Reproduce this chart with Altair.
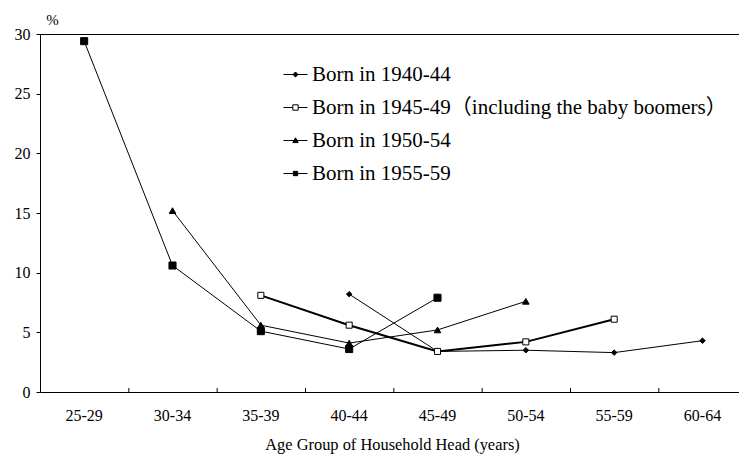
import altair as alt
import pandas as pd

# ---- data ----
categories = ["25-29", "30-34", "35-39", "40-44", "45-49", "50-54", "55-59", "60-64"]
series_names = [
    "Born in 1940-44",
    "Born in 1945-49（including the baby boomers）",
    "Born in 1950-54",
    "Born in 1955-59",
]
born_1940_44 = [None, None, None, 8.2, 3.4, 3.5, 3.3, 4.3]
born_1945_49 = [None, None, 8.1, 5.6, 3.4, 4.2, 6.1, None]
born_1950_54 = [None, 15.2, 5.6, 4.1, 5.2, 7.6, None, None]
born_1955_59 = [29.4, 10.6, 5.1, 3.6, 7.9, None, None, None]
y_ticks = [0, 5, 10, 15, 20, 25, 30]

# ---- styles ----
marker_shapes = ["diamond", "square", "triangle-up", "square"]
marker_fills = ["black", "white", "black", "black"]
marker_strokes = ["black", "black", "black", "black"]
marker_sizes = [30, 50, 36, 26]
line_widths = [1, 2, 1, 1]
legend_paths = [
    "M-2,0H2M0,-0.42L0.42,0L0,0.42L-0.42,0Z",
    "M-2,0H-0.45M0.45,0H2M-0.45,-0.45H0.45V0.45H-0.45Z",
    "M-2,0H2M0,-0.45L0.45,0.35H-0.45Z",
    "M-2,0H2M-0.36,-0.36H0.36V0.36H-0.36Z",
]

FONT = "Liberation Serif, Noto Sans CJK JP"
W, H = 699, 358
BAND_RANGE = [0, 706.67]

rows = []
for name, lw, vals in zip(series_names, line_widths,
                          [born_1940_44, born_1945_49, born_1950_54, born_1955_59]):
    for cat, v in zip(categories, vals):
        if v is not None:
            rows.append({"series": name, "age": cat, "value": v, "lw": lw})
df = pd.DataFrame(rows)
# draw open squares last so they sit on top
df_points = pd.concat([df[df.series != series_names[1]], df[df.series == series_names[1]]])

x_scale = alt.Scale(type="band", domain=categories, range=BAND_RANGE, paddingInner=0, paddingOuter=0)
y_scale = alt.Scale(domain=[0, 30], nice=False)

x_axis = alt.Axis(
    title="Age Group of Household Head (years)",
    ticks=False,
    labelAngle=0,
    labelPadding=15,
    labelFontSize=16,
    titleFontSize=16.4,
    titlePadding=13,
    titleFontWeight="normal",
    domainColor="black",
    labelColor="black",
    titleColor="black",
    titleX=352,
    titleAnchor="middle",
)
y_axis = alt.Axis(
    values=y_ticks,
    grid=False,
    tickSize=4,
    tickColor="black",
    domainColor="black",
    labelColor="black",
    labelFontSize=16,
    labelPadding=6,
    title="%",
    titleAngle=0,
    titleX=12,
    titleY=-10,
    titleAlign="center",
    titleBaseline="alphabetic",
    titleFontSize=15,
    titleFontWeight="normal",
    titleColor="black",
)

X = lambda **kw: alt.X("age:N", scale=x_scale, sort=categories, axis=x_axis, **kw)
Y = lambda: alt.Y("value:Q", scale=y_scale, axis=y_axis)

lines = alt.Chart(df).mark_line(color="black").encode(
    x=X(),
    y=Y(),
    detail="series:N",
    strokeWidth=alt.StrokeWidth("lw:Q", scale=None),
)

points = alt.Chart(df_points).mark_point(filled=True, stroke="black", strokeWidth=1, opacity=1).encode(
    x=X(),
    y=Y(),
    shape=alt.Shape("series:N", scale=alt.Scale(domain=series_names, range=marker_shapes), legend=None),
    fill=alt.Fill("series:N", scale=alt.Scale(domain=series_names, range=marker_fills), legend=None),
    size=alt.Size("series:N", scale=alt.Scale(domain=series_names, range=marker_sizes), legend=None),
)

legend_props = dict(
    title=None,
    orient="none",
    legendX=245,
    legendY=30,
    padding=0,
    labelFont=FONT,
    labelFontSize=21,
    labelColor="black",
    labelOffset=6,
    labelLimit=0,
    rowPadding=11,
    symbolSize=144,
    symbolStrokeWidth=1,
    symbolOpacity=1,
)

legend_layer = (
    alt.Chart(df)
    .transform_filter("false")
    .mark_point(filled=False, strokeWidth=1, opacity=1)
    .encode(
        x=X(),
        y=Y(),
        shape=alt.Shape(
            "series:N",
            scale=alt.Scale(domain=series_names, range=legend_paths),
            legend=alt.Legend(**legend_props),
        ),
        fill=alt.Fill(
            "series:N",
            scale=alt.Scale(domain=series_names, range=marker_fills),
            legend=alt.Legend(**legend_props),
        ),
        stroke=alt.Stroke(
            "series:N",
            scale=alt.Scale(domain=series_names, range=marker_strokes),
            legend=alt.Legend(**legend_props),
        ),
    )
)

tick_df = pd.DataFrame({"age": categories[1:]})
x_ticks = alt.Chart(tick_df).mark_rule(color="black", strokeWidth=1, xOffset=0.5).encode(
    x=X(bandPosition=0),
    y=alt.value(H),
    y2=alt.value(H - 4),
)

top_df = pd.DataFrame({"value": [30]})
top_border = alt.Chart(top_df).mark_rule(color="black", strokeWidth=1, yOffset=0.5).encode(
    y=Y(),
    x=alt.value(0),
    x2=alt.value(W),
)

chart = (
    alt.layer(lines, top_border, x_ticks, points, legend_layer)
    .resolve_scale(shape="independent", fill="independent", stroke="independent")
    .properties(
        width=W,
        height=H,
        autosize=alt.AutoSizeParams(type="none"),
        padding={"left": 40, "top": 34, "right": 0, "bottom": 65},
    )
    .configure(font=FONT, background="white")
    .configure_view(stroke=None)
)

chart.save("out.html", embed_options={"renderer": "svg", "actions": False})
